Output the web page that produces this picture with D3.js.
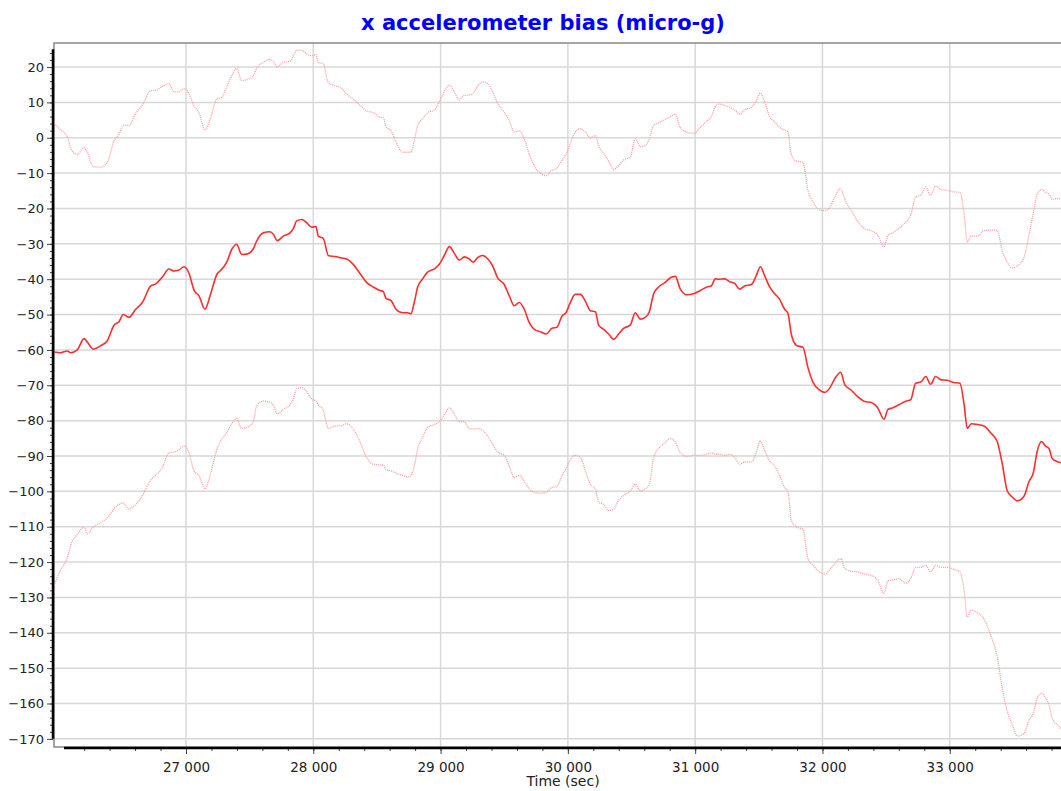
<!DOCTYPE html>
<html>
<head>
<meta charset="utf-8">
<script src="https://cdn.jsdelivr.net/npm/d3@7"></script>
<style>
  body { margin: 0; background: #fff; }
  svg { display: block; font-family: "DejaVu Sans", Verdana, sans-serif; }
</style>
</head>
<body>
<svg width="1061" height="791"></svg>
<script>
// time (sec) of each sample
const times = [
  25963, 26016, 26068, 26094, 26146, 26199, 26225, 26272, 26330, 26382, 26434, 26474, 26507, 26552, 26605,
  26657, 26723, 26762, 26814, 26866, 26906, 26945, 26984, 27024, 27063, 27102, 27149, 27194, 27246,
  27267, 27320, 27359, 27398, 27437, 27477, 27529, 27555, 27607, 27660, 27686, 27717, 27764, 27817, 27843,
  27870, 27909, 27948, 27988, 28021, 28039, 28079, 28118, 28170, 28210, 28262, 28314, 28367, 28419, 28471,
  28524, 28550,
  28571, 28610, 28650, 28702, 28741, 28767, 28793, 28820, 28859, 28898, 28951, 28990, 29029, 29069, 29108,
  29147, 29186, 29225, 29257, 29291, 29330, 29370, 29409, 29448, 29500, 29540, 29579, 29618, 29657, 29697,
  29736, 29788, 29828,
  29875, 29914, 29954, 29985, 30019, 30058, 30098, 30137, 30176, 30216, 30242, 30281, 30320, 30360, 30399,
  30438, 30490, 30530, 30569, 30608, 30640, 30674, 30713, 30765, 30805, 30844, 30883, 30936, 30988, 31040,
  31093, 31127, 31158,
  31179, 31232, 31271, 31310, 31350, 31389, 31441, 31480, 31512, 31546, 31585, 31625, 31664, 31703, 31729,
  31755, 31795, 31847, 31886, 31925, 31978, 32017, 32057, 32096, 32143, 32175, 32227, 32279, 32332, 32384,
  32436,
  32483, 32515, 32549, 32601, 32654, 32693, 32732, 32772, 32811, 32850, 32889, 32929, 32981, 33033, 33080,
  33112, 33138, 33169, 33216, 33269, 33321, 33373, 33413, 33452, 33491, 33531, 33583, 33622, 33656, 33688,
  33722, 33753, 33779, 33805, 33845, 33874
];

// bias estimate (micro-g)
const bias = [
  -60.6, -60.8, -60.3, -60.8, -60, -56.8, -57.8, -59.8, -58.8, -57.4, -53, -52, -50, -50.8, -48.5,
  -46.6, -41.9, -41.3, -39.4, -37.1, -37.7, -37.4, -36.5, -38.4, -43.1, -44.7, -48.5, -44.1, -38.4,
  -37.7, -35.2, -31.6, -30.1, -33, -32.9, -31.4, -29.2, -26.9, -26.6, -27.3, -29.1, -27.8, -26.9, -25.7,
  -23.5, -23.1, -24, -25.3, -25.1, -27.8, -28.5, -33.3, -33.6, -33.9, -34.3, -35.8, -38.4, -40.9, -42.2,
  -43.2, -43.5,
  -45.4, -46, -48.5, -49.5, -49.5, -49.8, -46.6, -42.2, -39.9, -38, -37.1, -35.8, -33.3, -30.8, -32.7,
  -34.6, -33.7, -34.3, -35.2, -33.9, -33.3, -34.2, -36.2, -39.6, -41.5, -44.7, -47.5, -46.6, -48.5, -52.3,
  -54.2, -54.9, -55.5,
  -53.9, -53.6, -50.4, -49.5, -46.6, -44.3, -44.3, -46.2, -48.9, -49.2, -53, -54.2, -55.5, -57, -55.5,
  -53.9, -53, -49.5, -51.3, -50.8, -49.2, -44.1, -42.2, -40.9, -39.6, -39.2, -42.8, -44.4, -44.1, -43.2,
  -42.2, -41.9, -39.9,
  -40, -39.9, -40.7, -41.2, -42.8, -41.9, -41.5, -39, -36.5, -39, -42.2, -44.1, -45.7, -48.5, -49.7,
  -55.5, -58.7, -59.3, -65, -69.1, -71.4, -72, -70.8, -68.2, -66.3, -69.8, -71.4, -73.3, -74.6, -74.9,
  -76.5,
  -79.6, -76.8, -76.4, -75.5, -74.5, -74.1, -69.4, -69.1, -67.5, -69.7, -67.5, -68.4, -68.6, -69.2, -69.4,
  -75.2, -82.2, -80.9, -81.1, -81.5, -83.4, -85.9, -92.3, -99.9, -101.6, -102.7, -101.4, -97.3, -94.8, -88.5,
  -85.9, -87.2, -87.8, -90.7, -91.6, -91.9
];

// upper bound
const upper = [
  4.1, 2.2, 0.3, -3.1, -4.7, -2.8, -4.1, -8.2, -8.3, -7, -0.9, 1, 3.5, 3.5, 6.9,
  9.2, 13.3, 13.4, 14.5, 15.3, 13, 13, 13.9, 12.4, 9, 7.1, 2.2, 5.8, 11.1,
  11.1, 14.3, 17.5, 19.6, 16.2, 16.4, 17.5, 19.7, 21.3, 22.2, 21.6, 20, 21.3, 21.6, 23.2,
  24.8, 24.7, 23.8, 23.2, 23.6, 21.3, 20.9, 15.6, 14.7, 14.3, 12.4, 10.9, 9.2, 7.6, 7.1,
  5.8, 5.7,
  3.1, 2, -1.2, -4.1, -4.1, -4.1, -0.9, 3.5, 5.4, 7.1, 7.9, 10.1, 13, 14.9, 13,
  10.7, 12, 12.1, 12.6, 14.5, 15.8, 15.3, 13, 9.8, 7.3, 4.8, 1.6, 2, -0.3, -4.7,
  -7.9, -10.1, -10.7,
  -9.2, -8.6, -6.3, -4.7, -1.6, 1.6, 2.6, 1.6, 0, 0.6, -2.2, -4.4, -6.6, -8.9, -7.9,
  -6.3, -5.4, -0.3, -2.5, -2.2, -0.3, 3.5, 4.2, 5.2, 6, 6.7, 2.9, 1.6, 1.2, 2.9,
  4.8, 6, 8.8,
  9.5, 9.2, 8.6, 7.9, 6.7, 7.9, 8.6, 10.5, 12.6, 10.1, 6, 4.4, 2.9, 2.2, 1.6,
  -4.7, -6.6, -7, -14.9, -18.1, -20.4, -20.6, -19.7, -16.8, -14.3, -17.4, -20.6, -23.8, -25.7, -26.3,
  -27.6,
  -30.8, -27.6, -26.9, -25.7, -23.8, -21.9, -16.8, -16.2, -14, -16.2, -13.7, -14.6, -14.9, -15.3, -15.5,
  -21.3, -29.5, -27.8, -27.8, -26.3, -26.1, -26.3, -32, -35.2, -36.8, -36.2, -33.9, -27.6, -21.3, -15.9,
  -14.6, -15.5, -15.9, -17.4, -17.2, -17.2
];

// lower bound
const lower = [
  -126.6, -122.1, -118.7, -115.2, -112.2, -110.1, -112, -110.1, -108.8, -107.5, -105, -103.7, -103.3, -105, -103.7,
  -101.2, -96.8, -95.5, -93.3, -89.1, -88.9, -88.2, -87.2, -89.1, -94.2, -95.5, -99.3, -94.8, -87.8,
  -86, -83.4, -80.9, -79.4, -82.2, -81.9, -80.3, -75.8, -74.5, -74.8, -75.5, -78.1, -76.8, -75.5, -73.9,
  -71, -70.7, -71.8, -73.9, -74.5, -75.5, -77.1, -82.2, -81.5, -81.5, -80.9, -82.4, -86, -90.4, -92.3,
  -92.5, -92.5,
  -93.8, -94.2, -94.8, -95.5, -95.9, -95.5, -92.9, -87.9, -84.7, -81.9, -81.1, -80.3, -78.4, -76.4, -78.1,
  -80.3, -80.3, -82.2, -82.4, -82.2, -82.8, -84.4, -86.6, -88.9, -89.8, -92.9, -96.1, -95.5, -97.1, -99.3,
  -100.3, -100.5, -100.3,
  -98.9, -98.6, -95.5, -93.6, -91, -89.8, -90.4, -94.2, -98, -99.3, -103.1, -103.7, -105.4, -105, -102.5,
  -101.2, -99.9, -98, -99.9, -99.3, -98, -90.4, -87.9, -86.2, -85.1, -86, -89.1, -90.1, -89.8, -89.8,
  -89.5, -89.1, -89.5,
  -89.5, -89.8, -89.5, -90.4, -92.3, -91.7, -91.7, -89.1, -85.7, -88.5, -91.4, -92.9, -95.5, -99, -99.9,
  -108.2, -110.1, -110.7, -119, -120.9, -122.8, -123.4, -122.1, -120.5, -119, -121.8, -122.6, -122.8, -123.4, -123.8,
  -125.3,
  -128.9, -125.3, -125.1, -124.7, -126, -124.7, -121.5, -121.5, -120.9, -122.8, -120.9, -121.5, -121.5, -122.1, -122.8,
  -127.9, -135.5, -133.6, -134.3, -136.1, -140.6, -146.9, -155.8, -162.2, -166, -169.2, -168.5, -164.7, -162.8, -158.4,
  -157.1, -158.4, -160.3, -164.1, -166, -167.3
];

const xTicks = [27000, 28000, 29000, 30000, 31000, 32000, 33000];
const yTicks = [20, 10, 0, -10, -20, -30, -40, -50, -60, -70, -80, -90, -100, -110, -120, -130, -140, -150, -160, -170];

const plotLeft = 54, plotRight = 1061, plotTop = 43, plotBottom = 747;

const svg = d3.select("svg");

const x = d3.scaleLinear().domain([25963, 33874]).range([plotLeft, plotRight]);
const y = d3.scaleLinear().domain([-172.3, 26.8]).range([plotBottom, plotTop]);

// title
svg.append("text")
  .attr("x", 543).attr("y", 30)
  .attr("text-anchor", "middle")
  .attr("fill", "#0000ff")
  .attr("font-weight", "bold")
  .attr("font-size", 21)
  .text("x accelerometer bias (micro-g)");

// grid
const grid = svg.append("g").attr("stroke", "#d8d8d8").attr("stroke-width", 1.5);
grid.selectAll(".h").data(yTicks).join("line")
  .attr("x1", plotLeft).attr("x2", plotRight)
  .attr("y1", d => y(d)).attr("y2", d => y(d));
grid.selectAll(".v").data(xTicks).join("line")
  .attr("x1", d => x(d)).attr("x2", d => x(d))
  .attr("y1", plotTop).attr("y2", plotBottom);

// frame
svg.append("rect")
  .attr("x", plotLeft).attr("y", plotTop)
  .attr("width", plotRight - plotLeft + 2).attr("height", plotBottom - plotTop)
  .attr("fill", "none").attr("stroke", "#888").attr("stroke-width", 1.5);

// series
const pts = (vals) => times.map((t, i) => [t, vals[i]]);
const line = d3.line().x(d => x(d[0])).y(d => y(d[1])).curve(d3.curveMonotoneX);

const plot = svg.append("g");
plot.append("path").datum(pts(upper))
  .attr("d", line).attr("fill", "none")
  .attr("stroke", "#ff9c9c").attr("stroke-width", 1.3).attr("stroke-dasharray", "1,1");
plot.append("path").datum(pts(lower))
  .attr("d", line).attr("fill", "none")
  .attr("stroke", "#ff9c9c").attr("stroke-width", 1.3).attr("stroke-dasharray", "1,1");
plot.append("path").datum(pts(bias))
  .attr("d", line).attr("fill", "none")
  .attr("stroke", "#ff2e2e").attr("stroke-width", 1.6);

// y axis
const yMinor = d3.range(-170, 26, 2);
const yAxis = svg.append("g").attr("transform", `translate(${plotLeft - 1},0)`);
yAxis.call(d3.axisLeft(y).tickValues(yMinor).tickSize(3).tickFormat(""))
  .call(g => g.select(".domain").remove());
yAxis.append("g")
  .call(d3.axisLeft(y).tickValues(yTicks).tickSize(6).tickPadding(3))
  .call(g => g.select(".domain").remove())
  .call(g => g.selectAll("text").attr("font-size", 13).attr("fill", "#222").attr("font-family", "DejaVu Sans, Verdana, sans-serif"));
yAxis.selectAll("line").attr("stroke", "#444");
yAxis.append("line")
  .attr("x1", 0).attr("x2", 0)
  .attr("y1", y(25)).attr("y2", y(-170))
  .attr("stroke", "#000").attr("stroke-width", 2.5);

// x axis
const xMinor = d3.range(26200, 33874, 200);
const xAxis = svg.append("g").attr("transform", `translate(0,${plotBottom + 1})`);
xAxis.call(d3.axisBottom(x).tickValues(xMinor).tickSize(3).tickFormat(""))
  .call(g => g.select(".domain").remove());
xAxis.append("g")
  .call(d3.axisBottom(x).tickValues(xTicks).tickSize(6).tickPadding(8)
    .tickFormat(d => d3.format(",")(d).replace(",", " ")))
  .call(g => g.select(".domain").remove())
  .call(g => g.selectAll("text").attr("font-size", 13.5).attr("fill", "#222").attr("font-family", "DejaVu Sans, Verdana, sans-serif"));
xAxis.selectAll("line").attr("stroke", "#444");
xAxis.append("line")
  .attr("x1", 64).attr("x2", plotRight)
  .attr("y1", 0).attr("y2", 0)
  .attr("stroke", "#000").attr("stroke-width", 2.5);

svg.append("text")
  .attr("x", 563).attr("y", 786)
  .attr("text-anchor", "middle")
  .attr("font-size", 14)
  .attr("fill", "#222")
  .text("Time (sec)");
</script>
</body>
</html>
